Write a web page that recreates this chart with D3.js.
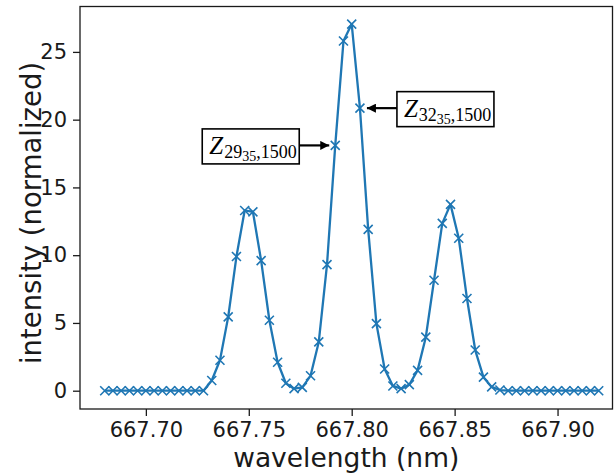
<!DOCTYPE html>
<html>
<head>
<meta charset="utf-8">
<script src="https://cdn.jsdelivr.net/npm/d3@7"></script>
<style>
  body { margin: 0; background: #fff; }
  svg { display: block; }
</style>
</head>
<body>
<div id="chart"></div>
<script>
// wavelength samples (nm) and normalized intensity
var wavelength = [
  667.680, 667.684, 667.688, 667.692, 667.696, 667.700, 667.704, 667.708, 667.712, 667.716,
  667.720, 667.724, 667.728, 667.732, 667.736, 667.740, 667.744, 667.748, 667.752, 667.756,
  667.760, 667.764, 667.768, 667.772, 667.776, 667.780, 667.784, 667.788, 667.792, 667.796,
  667.800, 667.804, 667.808, 667.812, 667.816, 667.820, 667.824, 667.828, 667.832, 667.836,
  667.840, 667.844, 667.848, 667.852, 667.856, 667.860, 667.864, 667.868, 667.872, 667.876,
  667.880, 667.884, 667.888, 667.892, 667.896, 667.900, 667.904, 667.908, 667.912, 667.916,
  667.920
];
var intensity = [
  0, 0, 0, 0, 0, 0, 0, 0, 0, 0,
  0, 0, 0, 0.75, 2.25, 5.45, 9.9, 13.3, 13.2, 9.6,
  5.2, 2.1, 0.55, 0.15, 0.25, 1.1, 3.6, 9.3, 18.1, 25.8,
  27.05, 20.85, 11.9, 4.95, 1.6, 0.35, 0.15, 0.45, 1.5, 3.95,
  8.15, 12.35, 13.75, 11.25, 6.8, 3.0, 1.0, 0.28, 0.05, 0,
  0, 0, 0, 0, 0, 0, 0, 0, 0, 0,
  0
];
var xTicks = [667.70, 667.75, 667.80, 667.85, 667.90];
var yTicks = [0, 5, 10, 15, 20, 25];
var labelIndex = [28, 31];
var labelMain = ["29", "32"];
var labelSub = ["35", "35"];
var labelRest = [",1500", ",1500"];
var labelSide = ["left", "right"];

var W = 614, H = 475;
var margin = {top: 6.5, right: 1.5, bottom: 66, left: 80};
var width = W - margin.left - margin.right;
var height = H - margin.top - margin.bottom;
var blue = "#1f77b4";

var svg = d3.select("#chart").append("svg")
    .attr("width", W)
    .attr("height", H);

var g = svg.append("g")
    .attr("transform", "translate(" + margin.left + "," + margin.top + ")");

var x = d3.scaleLinear().domain([667.668, 667.9267]).range([0, width]);
var y = d3.scaleLinear().domain([-1.35, 28.35]).range([height, 0]);

// axes
g.append("g")
    .attr("class", "x axis")
    .attr("transform", "translate(0," + height + ")")
    .call(d3.axisBottom(x).tickValues(xTicks).tickFormat(d3.format(".2f"))
        .tickSizeInner(7).tickSizeOuter(0).tickPadding(6));

g.append("g")
    .attr("class", "y axis")
    .call(d3.axisLeft(y).tickValues(yTicks).tickFormat(d3.format("d"))
        .tickSizeInner(7).tickSizeOuter(0).tickPadding(6));

g.selectAll(".axis text")
    .style("font-family", "'DejaVu Sans', sans-serif")
    .style("font-size", "21px")
    .style("fill", "#1a1a1a");
g.selectAll(".axis line").style("stroke", "#1a1a1a").style("stroke-width", 1.3);
g.selectAll(".axis .domain").remove();

// frame
g.append("rect")
    .attr("width", width)
    .attr("height", height)
    .style("fill", "none")
    .style("stroke", "#1a1a1a")
    .style("stroke-width", 1.3);

// axis labels
svg.append("text")
    .attr("x", margin.left + width / 2)
    .attr("y", 467)
    .attr("text-anchor", "middle")
    .style("font-family", "'DejaVu Sans', sans-serif")
    .style("font-size", "26.5px")
    .style("fill", "#1a1a1a")
    .text("wavelength (nm)");

svg.append("text")
    .attr("transform", "translate(31,213) rotate(-90)")
    .attr("text-anchor", "middle")
    .attr("dy", "0.35em")
    .style("font-family", "'DejaVu Sans', sans-serif")
    .style("font-size", "27.5px")
    .style("fill", "#1a1a1a")
    .text("intensity (normalized)");

// line + markers
var points = wavelength.map(function (d, i) { return [d, intensity[i]]; });

var valueline = d3.line()
    .x(function (d) { return x(d[0]); })
    .y(function (d) { return y(d[1]); });

g.append("path")
    .datum(points)
    .attr("d", valueline)
    .style("fill", "none")
    .style("stroke", blue)
    .style("stroke-width", 2.3)
    .style("stroke-linejoin", "round");

g.selectAll(".marker")
    .data(points)
    .enter().append("path")
    .attr("class", "marker")
    .attr("transform", function (d) { return "translate(" + x(d[0]) + "," + y(d[1]) + ")"; })
    .attr("d", "M-4.5,-4.5L4.5,4.5M-4.5,4.5L4.5,-4.5")
    .style("stroke", blue)
    .style("stroke-width", 1.6);

// annotations
var defs = svg.append("defs");
defs.append("marker")
    .attr("id", "head")
    .attr("viewBox", "0 0 10 10")
    .attr("refX", 10).attr("refY", 5)
    .attr("markerWidth", 9).attr("markerHeight", 9)
    .attr("markerUnits", "userSpaceOnUse")
    .attr("orient", "auto")
    .append("path")
    .attr("d", "M0,0L10,5L0,10z")
    .style("fill", "#000");

var boxW = 97, boxH = 35, arrowLen = 30;

labelIndex.forEach(function (idx, k) {
    var px = x(wavelength[idx]), py = y(intensity[idx]);
    var tip, tail, bx;
    if (labelSide[k] === "left") {
        tip = px - 6; tail = tip - arrowLen; bx = tail - boxW;
    } else {
        tip = px + 7; tail = tip + arrowLen; bx = tail;
    }
    var by = py - boxH / 2 + 1;

    g.append("line")
        .attr("x1", tail).attr("y1", py)
        .attr("x2", tip).attr("y2", py)
        .attr("marker-end", "url(#head)")
        .style("stroke", "#000")
        .style("stroke-width", 2.2);

    g.append("rect")
        .attr("x", bx).attr("y", by)
        .attr("width", boxW).attr("height", boxH)
        .style("fill", "#fff")
        .style("stroke", "#000")
        .style("stroke-width", 1.6);

    var t = g.append("text")
        .attr("x", bx + 7)
        .attr("y", by + 25)
        .style("font-family", "'Liberation Serif', serif")
        .style("fill", "#000");
    t.append("tspan").style("font-style", "italic").style("font-size", "25px").text("Z");
    t.append("tspan").attr("dx", 1).attr("dy", 4).style("font-size", "18px").text(labelMain[k]);
    t.append("tspan").attr("dy", 3).style("font-size", "14px").text(labelSub[k]);
    t.append("tspan").attr("dy", -3).style("font-size", "18px").text(labelRest[k]);
});
</script>
</body>
</html>
